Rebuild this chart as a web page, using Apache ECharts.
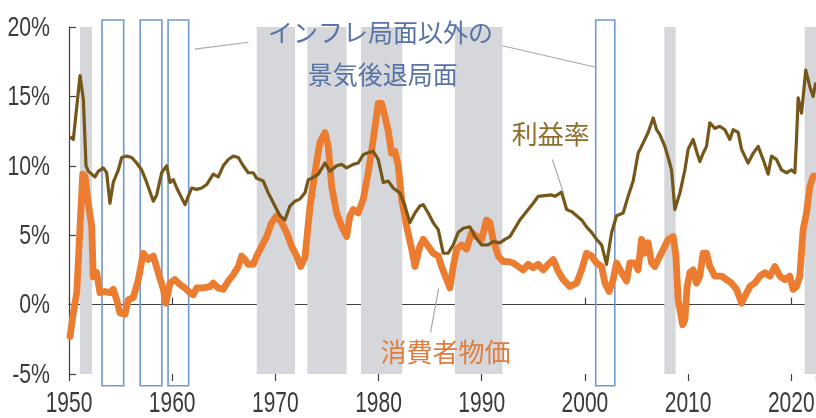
<!DOCTYPE html>
<html>
<head>
<meta charset="utf-8">
<script src="https://cdn.jsdelivr.net/npm/echarts@6/dist/echarts.min.js"></script>
<style>
  html, body { margin: 0; padding: 0; background: #ffffff; }
  #chart { width: 816px; height: 418px; }
</style>
</head>
<body>
<div id="chart"></div>
<script>
// 利益率 (profit margin), [year, %]
const profitRate = [
  [1950.1,12.1],[1950.42,11.9],[1950.9,15.3],[1951.07,16.5],[1951.39,14.8],[1951.65,10.0],[1951.87,9.6],
  [1952.2,9.4],[1952.52,9.2],[1952.84,9.6],[1953.32,9.85],[1953.65,9.5],[1953.97,7.3],[1954.29,8.8],
  [1954.78,9.7],[1955.11,10.6],[1955.59,10.7],[1956.08,10.6],[1956.56,10.2],[1957.04,9.7],[1957.53,8.8],
  [1958.17,7.45],[1958.5,7.9],[1958.98,9.5],[1959.47,10.0],[1959.79,8.8],[1960.11,9.0],[1960.44,8.4],
  [1961.24,7.2],[1961.89,8.4],[1962.37,8.3],[1962.86,8.4],[1963.34,8.65],[1963.98,9.4],[1964.47,9.2],
  [1964.95,10.0],[1965.44,10.45],[1965.92,10.7],[1966.41,10.6],[1966.89,10.0],[1967.37,9.5],[1967.86,9.5],
  [1968.19,9.1],[1968.83,8.9],[1969.31,8.05],[1969.96,7.1],[1970.45,6.4],[1970.93,6.1],[1971.41,7.1],
  [1971.9,7.45],[1972.38,7.6],[1972.87,8.05],[1973.19,9.0],[1973.52,9.1],[1974.16,9.4],[1974.81,10.2],
  [1975.29,9.6],[1975.94,10.0],[1976.42,10.1],[1976.91,9.85],[1977.55,10.1],[1978.03,10.2],[1978.52,10.8],
  [1979.0,10.95],[1979.49,11.05],[1979.97,10.45],[1980.46,8.8],[1980.94,8.9],[1981.42,8.4],[1982.07,8.05],
  [1982.56,7.1],[1983.04,5.9],[1983.53,6.6],[1984.01,7.1],[1984.33,7.2],[1984.82,6.6],[1985.3,5.9],
  [1985.79,5.4],[1986.27,3.7],[1986.75,3.7],[1987.24,4.3],[1987.72,5.2],[1988.21,5.5],[1988.86,5.6],
  [1989.34,4.9],[1989.99,4.3],[1990.63,4.3],[1991.11,4.55],[1991.76,4.45],[1992.25,4.7],[1992.73,4.9],
  [1993.22,5.5],[1993.7,6.1],[1994.35,6.7],[1994.99,7.3],[1995.47,7.8],[1996.12,7.85],[1996.77,7.9],
  [1997.09,7.8],[1997.74,8.1],[1998.23,6.85],[1998.71,6.7],[1999.2,6.4],[1999.68,6.1],[2000.16,5.6],
  [2000.65,5.2],[2001.13,4.7],[2001.62,4.3],[2002.1,2.9],[2002.59,5.2],[2003.07,6.4],[2003.71,6.6],
  [2004.19,7.8],[2004.68,8.9],[2005.16,10.9],[2005.65,11.65],[2006.13,12.4],[2006.62,13.45],[2006.95,12.6],
  [2007.27,12.25],[2007.75,11.4],[2008.07,10.6],[2008.4,9.7],[2008.72,6.85],[2009.21,8.05],[2009.69,9.7],
  [2010.01,11.2],[2010.49,11.9],[2010.82,11.05],[2011.14,10.3],[2011.46,10.9],[2011.79,11.4],[2012.11,13.1],
  [2012.6,12.7],[2013.08,12.85],[2013.57,12.6],[2014.05,11.9],[2014.37,12.6],[2014.86,12.4],[2015.18,11.2],
  [2015.5,10.7],[2015.82,10.2],[2016.31,10.9],[2016.79,11.4],[2017.28,10.45],[2017.76,9.4],[2018.09,10.7],
  [2018.57,10.45],[2019.06,9.7],[2019.54,9.5],[2020.03,9.7],[2020.35,9.5],[2020.51,11.9],[2020.67,14.9],
  [2021.0,13.8],[2021.41,16.9],[2021.8,15.7],[2022.12,15.0],[2022.38,16.0]
];

// 消費者物価 (consumer prices, y/y), [year, %]
const cpiRate = [
  [1950.1,-2.3],[1950.42,-0.6],[1950.75,0.85],[1951.07,5.6],[1951.33,9.4],[1951.55,9.25],[1951.87,7.3],
  [1952.2,5.65],[1952.35,2.0],[1952.68,2.3],[1953.0,0.85],[1953.49,0.95],[1953.97,0.85],[1954.29,1.1],
  [1954.62,0.35],[1954.94,-0.6],[1955.43,-0.7],[1955.75,0.35],[1956.23,0.5],[1956.72,1.8],[1957.2,3.7],
  [1957.68,3.25],[1958.17,3.5],[1958.65,2.3],[1959.14,1.1],[1959.4,0.1],[1959.79,1.55],[1960.27,1.8],
  [1960.76,1.45],[1961.24,1.2],[1961.73,0.85],[1962.04,0.7],[1962.37,1.2],[1963.01,1.2],[1963.66,1.3],
  [1963.98,1.55],[1964.47,1.2],[1964.95,1.1],[1965.44,1.7],[1965.92,2.15],[1966.41,2.75],[1966.73,3.5],
  [1967.05,3.25],[1967.37,2.9],[1967.86,2.9],[1968.19,3.5],[1968.67,4.2],[1969.16,4.9],[1969.64,5.9],
  [1970.13,6.4],[1970.61,5.9],[1971.09,5.2],[1971.58,4.2],[1972.06,3.5],[1972.45,2.75],[1972.87,3.4],
  [1973.35,7.0],[1973.84,9.5],[1974.32,11.7],[1974.81,12.4],[1975.13,11.4],[1975.46,8.5],[1975.94,6.6],
  [1976.42,5.65],[1976.91,4.9],[1977.23,6.4],[1977.55,6.85],[1978.03,6.6],[1978.52,7.6],[1979.0,9.5],
  [1979.49,11.9],[1979.97,14.5],[1980.3,14.5],[1980.62,13.55],[1980.94,12.5],[1981.27,10.9],[1981.59,11.05],
  [1981.91,10.0],[1982.24,7.6],[1982.72,5.65],[1983.21,4.0],[1983.53,2.75],[1984.01,4.2],[1984.33,4.7],
  [1984.82,4.2],[1985.3,3.7],[1985.79,3.5],[1986.11,2.75],[1986.6,1.8],[1986.92,1.2],[1987.24,2.75],
  [1987.57,4.0],[1988.05,4.3],[1988.54,4.0],[1989.02,5.2],[1989.51,4.9],[1989.99,4.7],[1990.47,6.1],
  [1990.79,5.9],[1991.11,4.7],[1991.6,3.5],[1992.08,3.1],[1992.57,3.1],[1993.05,3.0],[1993.54,2.75],
  [1994.02,2.5],[1994.51,2.9],[1994.99,2.65],[1995.47,2.9],[1995.96,2.5],[1996.44,2.9],[1996.93,3.25],
  [1997.41,2.4],[1997.9,1.8],[1998.55,1.3],[1999.2,1.55],[1999.68,2.5],[2000.16,3.7],[2000.65,3.5],
  [2001.13,3.0],[2001.62,2.75],[2001.94,1.55],[2002.35,0.95],[2002.74,1.8],[2003.07,3.0],[2003.56,2.3],
  [2004.04,1.7],[2004.36,3.0],[2004.84,3.0],[2005.16,2.5],[2005.49,4.7],[2005.81,3.7],[2006.13,4.45],
  [2006.46,3.0],[2006.78,2.75],[2007.27,3.5],[2007.75,4.2],[2008.07,4.7],[2008.56,4.9],[2008.82,3.5],
  [2009.04,0.35],[2009.47,-1.45],[2009.69,-1.1],[2009.91,1.3],[2010.17,2.3],[2010.49,2.5],[2010.82,1.55],
  [2011.14,2.05],[2011.46,3.7],[2011.79,3.7],[2012.11,2.75],[2012.6,2.05],[2013.25,2.05],[2013.73,1.8],
  [2014.21,1.55],[2014.7,1.1],[2015.18,0.1],[2015.5,0.6],[2015.99,1.3],[2016.47,1.55],[2016.96,2.05],
  [2017.44,2.3],[2017.93,2.05],[2018.41,2.75],[2018.9,2.05],[2019.38,1.8],[2019.86,2.05],[2020.18,1.1],
  [2020.51,1.3],[2020.83,2.05],[2021.15,5.4],[2021.48,6.6],[2021.8,8.5],[2022.12,9.25],[2022.38,9.25]
];

// inflation-phase periods (grey bands), [start, end]
const inflationPeriods = [
  [1951.07,1952.23],[1968.2,1971.9],[1973.1,1976.9],[1978.3,1982.3],
  [1987.4,1992.0],[2007.7,2008.8],[2021.3,2023.0]
];

// recessions outside inflation phases (outlined boxes), [start, end]
const otherRecessions = [
  [1953.2,1955.3],[1956.9,1959.0],[1959.6,1961.6],[2001.05,2002.9]
];
// vertical extent of the outlined boxes, in %
const boxRange = [-5.85, 20.5];

// axis ranges and tick labels
const yearRange = [1950, 2022.4];
const yearStep = 10;
const yearTicks = [1950, 1960, 1970, 1980, 1990, 2000, 2010, 2020];
const pctRange = [-5, 20];
const pctStep = 5;
const pctTicks = [-5, 0, 5, 10, 15, 20];

const tickFont = '"Liberation Sans", Arial, sans-serif';
const jpFont = '"Noto Sans CJK JP", "Noto Sans", sans-serif';
const axisColor = '#404040';
const tickTextColor = '#3a3a3a';

const chart = echarts.init(document.getElementById('chart'), null, { renderer: 'canvas' });

chart.setOption({
  animation: false,
  backgroundColor: '#ffffff',
  grid: { left: 69, right: 0, top: 27, bottom: 44, outerBoundsMode: 'none', containLabel: false },
  xAxis: [{
    type: 'value',
    min: yearRange[0], max: yearRange[1], interval: yearStep,
    axisLine: { show: true, onZero: true, lineStyle: { color: axisColor, width: 1.2 } },
    axisTick: { show: true, inside: true, length: 7, lineStyle: { color: axisColor, width: 1.2 } },
    axisLabel: { show: false },
    splitLine: { show: false }
  }, {
    type: 'value', position: 'bottom',
    min: yearRange[0], max: yearRange[1], interval: yearStep,
    axisLine: { show: false, onZero: true },
    axisTick: { show: true, inside: false, length: 7, lineStyle: { color: axisColor, width: 1.2 } },
    axisLabel: { show: false },
    splitLine: { show: false }
  }],
  yAxis: {
    type: 'value',
    min: pctRange[0], max: pctRange[1], interval: pctStep,
    axisLine: { show: true, onZero: false, lineStyle: { color: axisColor, width: 1.2 } },
    axisTick: { show: true, inside: true, length: 7, lineStyle: { color: axisColor, width: 1.2 } },
    axisLabel: { show: false },
    splitLine: { show: false }
  },
  series: [
    {
      name: 'inflation',
      type: 'line',
      data: [],
      silent: true,
      markArea: {
        silent: true,
        itemStyle: { color: '#d5d7da' },
        data: inflationPeriods.map(p => [{ xAxis: p[0] }, { xAxis: p[1] }])
      },
      z: 1
    },
    {
      name: 'recessionBoxes',
      type: 'custom',
      silent: true,
      clip: false,
      encode: { x: [0, 1], y: [2, 3] },
      data: otherRecessions.map(r => [r[0], r[1], boxRange[0], boxRange[1]]),
      renderItem: function (params, api) {
        const topLeft = api.coord([api.value(0), api.value(3)]);
        const botRight = api.coord([api.value(1), api.value(2)]);
        return {
          type: 'rect',
          shape: {
            x: topLeft[0], y: topLeft[1],
            width: botRight[0] - topLeft[0], height: botRight[1] - topLeft[1]
          },
          style: { fill: 'none', stroke: '#7398cc', lineWidth: 1.6 }
        };
      },
      z: 2
    },
    {
      name: '消費者物価',
      type: 'line',
      data: cpiRate,
      showSymbol: false,
      lineStyle: { color: '#ec7c30', width: 6.8, join: 'round', cap: 'round' },
      z: 3
    },
    {
      name: '利益率',
      type: 'line',
      data: profitRate,
      showSymbol: false,
      lineStyle: { color: '#755719', width: 3.2, join: 'round' },
      z: 4
    }
  ]
});

// annotations anchored in data space
const notes = [
  { text: 'インフレ局面以外の', at: [1980.2, 19.6], color: '#5874a6', size: 25 },
  { text: '景気後退局面', at: [1980.4, 16.6], color: '#5874a6', size: 25 },
  { text: '利益率', at: [1996.7, 12.25], color: '#8c6e2a', size: 26 },
  { text: '消費者物価', at: [1986.5, -3.45], color: '#e07c3e', size: 26 }
];
const leaders = [
  [[1962.2, 18.4], [1967.4, 18.9]],
  [[1992.0, 18.65], [2001.05, 17.1]],
  [[1996.85, 10.45], [1997.92, 8.05]],
  [[1985.82, 1.15], [1985.04, -2.0]]
];

const toPx = p => chart.convertToPixel({ gridIndex: 0 }, p);
const graphics = [];

// condensed tick labels (horizontally squeezed text)
yearTicks.forEach(yr => {
  const p = toPx([yr, pctRange[0]]);
  graphics.push({
    type: 'text', silent: true, z: 12,
    x: p[0], y: p[1] + 30, scaleX: 0.7,
    style: {
      text: String(yr), fill: tickTextColor, font: '30px ' + tickFont,
      align: 'center', verticalAlign: 'middle'
    }
  });
});
pctTicks.forEach(v => {
  const p = toPx([yearRange[0], v]);
  graphics.push({
    type: 'text', silent: true, z: 12,
    x: p[0] - 19, y: p[1] + 1, scaleX: 0.76,
    style: {
      text: v + '%', fill: tickTextColor, font: '28px ' + tickFont,
      align: 'right', verticalAlign: 'middle'
    }
  });
});

leaders.forEach(l => {
  const a = toPx(l[0]), b = toPx(l[1]);
  graphics.push({
    type: 'line', silent: true, z: 10,
    shape: { x1: a[0], y1: a[1], x2: b[0], y2: b[1] },
    style: { stroke: '#a9a9a9', lineWidth: 1.2 }
  });
});
notes.forEach(n => {
  const p = toPx(n.at);
  graphics.push({
    type: 'text', silent: true, z: 11,
    x: p[0], y: p[1],
    style: {
      text: n.text, fill: n.color,
      font: n.size + 'px ' + jpFont,
      align: 'center', verticalAlign: 'middle'
    }
  });
});
chart.setOption({ graphic: graphics });
</script>
</body>
</html>
